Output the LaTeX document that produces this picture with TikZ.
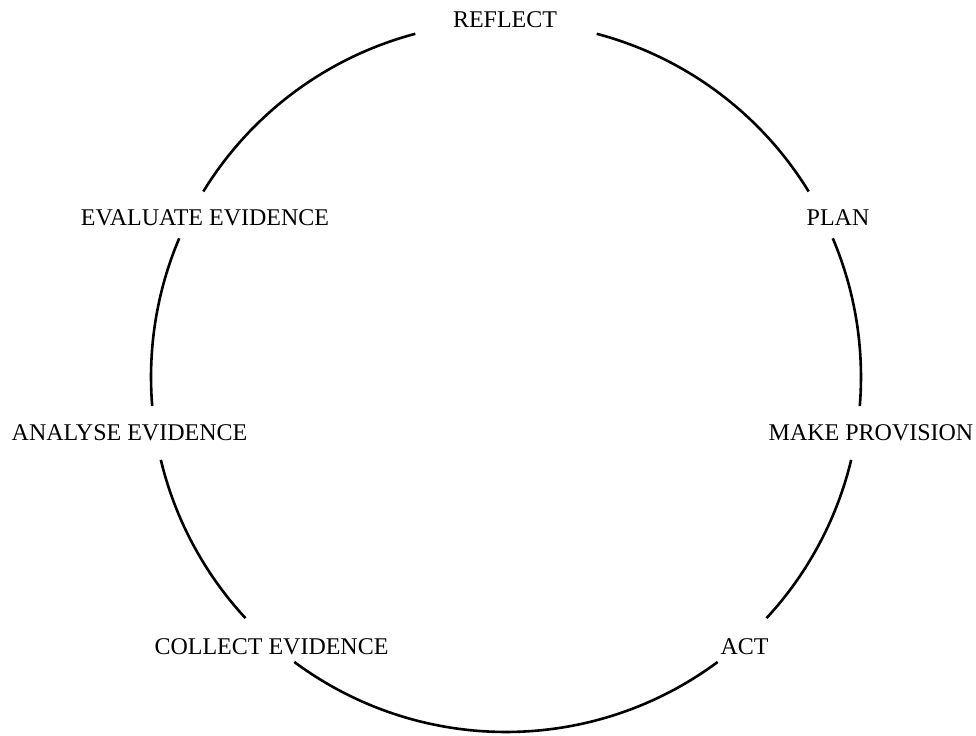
\documentclass[tikz,border=0pt]{standalone}
\usepackage{fontspec}
\setmainfont{Liberation Serif}
\usepackage{tikz}

\begin{document}
\begin{tikzpicture}[x=0.5pt,y=0.5pt]
	\tikzset{lbl/.style={anchor=base,inner sep=0pt,font=\fontsize{12}{14}\selectfont},
		rim/.style={line width=1.3pt}}
	\useasboundingbox (0,0) rectangle (976,735);
	\coordinate (ctr) at (506,358);
	% stages round the cycle
	\foreach \nm/\px/\py/\lab in {%
		reflect/505/707/{REFLECT},
		plan/838/509/{PLAN},
		provision/871/294/{MAKE PROVISION},
		act/744.5/81/{ACT},
		collect/271.5/81/{COLLECT EVIDENCE},
		analyse/129.5/294/{ANALYSE EVIDENCE},
		evaluate/205/509/{EVALUATE EVIDENCE}}{
		\node[lbl] (\nm) at (\px,\py) {\lab};
	}
	% circle, broken at the labels
	\foreach \a/\b in {104.8/148.5,157/184.7,193.5/222.8,233.4/306.6,
		317.2/346.5,355.3/383,391.5/435.2}{
		\draw[rim] ([shift={(\a:355)}]ctr) arc[start angle=\a,end angle=\b,radius=355];
	}
\end{tikzpicture}
\end{document}
